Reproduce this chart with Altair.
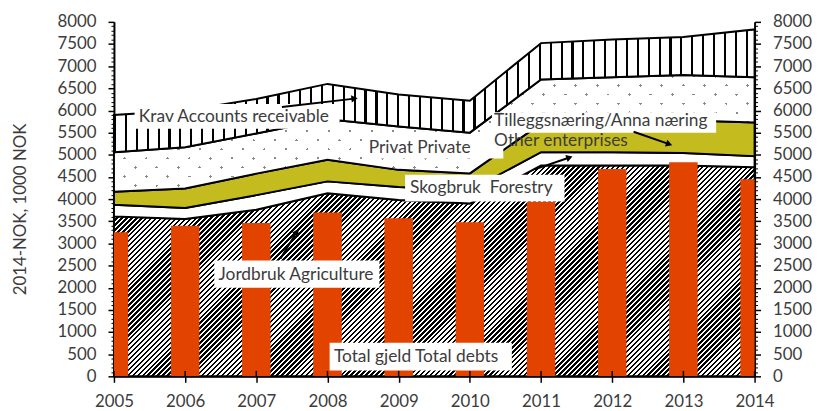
import math
import altair as alt
import pandas as pd

# ---------------- data ----------------
years = [2005, 2006, 2007, 2008, 2009, 2010, 2011, 2012, 2013, 2014]
agriculture = [3610, 3550, 3760, 4130, 3980, 3900, 4760, 4760, 4760, 4720]
forestry = [260, 250, 330, 270, 295, 300, 300, 300, 280, 250]
other_enterprises = [295, 440, 485, 490, 385, 380, 640, 690, 740, 760]
private = [890, 930, 905, 910, 980, 920, 1000, 1000, 1020, 1020]
accounts_receivable = [845, 830, 780, 800, 720, 720, 820, 850, 860, 1080]
total_debts = [3250, 3400, 3460, 3700, 3570, 3480, 3940, 4680, 4830, 4450]

y_ticks = list(range(0, 8001, 100))

# annotation boxes / labels / arrows (data coordinates)
box_x0 = [2005.29, 2008.52, 2009.09, 2010.31, 2006.41, 2008.03]
box_x1 = [2008.17, 2010.47, 2011.33, 2013.46, 2008.73, 2010.59]
box_y0 = [5587, 4916, 3944, 5497, 2000, 134]
box_y1 = [6145, 5385, 4547, 5960, 2614, 760]

label_text = ["Krav Accounts receivable", "Privat Private", "Skogbruk\u00a0 Forestry",
              "Tilleggsnæring/Anna næring", "Other enterprises",
              "Jordbruk Agriculture", "Total gjeld Total debts"]
label_x = [2005.35, 2008.58, 2009.16, 2010.34, 2010.34, 2006.47, 2008.09]
label_y = [5855, 5162, 4246, 5765, 5315, 2279, 436]

arrow_x0 = [2007.36, 2010.91, 2012.30, 2007.34]
arrow_y0 = [6078, 4670, 5519, 2659]
arrow_x1 = [2008.38, 2011.40, 2012.80, 2007.57]
arrow_y1 = [6268, 4938, 5240, 3263]

# ---------------- layout / style ----------------
W, H = 647, 358
YMAX = 8000
FONT = "Lato"
TXT = "#3c3c3c"
BAR = "#E24400"
OLIVE = "#C4BC1F"


def stripes(Wb, Hb, ax, ay, period, on, on_color, off_color, phase=0.0):
    """linear gradient (objectBoundingBox) that draws parallel stripes"""
    n = math.hypot(ax, ay)
    ax, ay = ax / n, ay / n
    corners = [(0.0, 0.0), (Wb, 0.0), (0.0, Hb), (Wb, Hb)]
    vals = [ax * x + ay * y for x, y in corners]
    fmin, fmax = min(vals), max(vals)
    R = fmax - fmin
    cx, cy = corners[vals.index(fmin)]
    al, be = ax / R, ay / R
    S = (al * Wb) ** 2 + (be * Hb) ** 2
    u1, v1 = cx / Wb, cy / Hb
    u2, v2 = u1 + al * Wb / S, v1 + be * Hb / S
    stops = [(0.0, off_color)]
    k = math.floor((fmin - phase) / period) - 1
    while True:
        s = phase + k * period
        if s > fmax:
            break
        e = s + on
        t0 = min(max((s - fmin) / R, 0.0), 1.0)
        t1 = min(max((e - fmin) / R, 0.0), 1.0)
        stops += [(t0, off_color), (t0, on_color), (t1, on_color), (t1, off_color)]
        k += 1
    stops.append((1.0, off_color))
    return {"gradient": "linear", "x1": u1, "y1": v1, "x2": u2, "y2": v2,
            "stops": [{"offset": round(t, 6), "color": c} for t, c in stops]}


# cumulative stack
c1 = agriculture
c2 = [a + b for a, b in zip(c1, forestry)]
c3 = [a + b for a, b in zip(c2, other_enterprises)]
c4 = [a + b for a, b in zip(c3, private)]
c5 = [a + b for a, b in zip(c4, accounts_receivable)]

df = pd.DataFrame({
    "year": years, "zero": [0] * len(years),
    "c1": c1, "c2": c2, "c3": c3, "c4": c4, "c5": c5,
    "total": total_debts,
    "x0": [y - 0.2 for y in years], "x1": [y + 0.2 for y in years],
})

xscale = alt.Scale(domain=[2005, 2014], nice=False, zero=False)
yscale = alt.Scale(domain=[0, YMAX], nice=False)

xaxis = alt.Axis(values=years, format="d", tickSize=6, tickColor="black", tickWidth=1.5,
                 domainColor="black", domainWidth=2, labelFont=FONT, labelFontSize=17,
                 labelColor=TXT, labelPadding=11, labelFlush=False, grid=False, title=None)


def yaxis(orient, title):
    kw = dict(orient=orient, values=y_ticks, format="d",
              labelExpr="datum.value % 500 === 0 ? datum.label : ''",
              labelOverlap=False, labelFlush=False,
              tickSize={"condition": {"test": "datum.value % 500 === 0", "value": 6}, "value": 3},
              tickWidth={"condition": {"test": "datum.value % 500 === 0", "value": 1.5}, "value": 1},
              tickColor="black", domainColor="black", domainWidth=2,
              labelFont=FONT, labelFontSize=17, labelColor=TXT, labelPadding=12, grid=False)
    if title:
        kw.update(title=title, titleFont=FONT, titleFontSize=17, titleFontWeight="normal",
                  titleColor=TXT, titleX=-85, titleY=189)
    else:
        kw.update(title=None)
    return alt.Axis(**kw)


YL = yaxis("left", "2014-NOK, 1000 NOK")
YR = yaxis("right", None)
X = alt.X("year:Q", scale=xscale, axis=xaxis)


def band(lo, hi, **mark):
    return alt.Chart(df).mark_area(**mark).encode(
        x=X, y=alt.Y(f"{lo}:Q", scale=yscale, axis=YL), y2=f"{hi}:Q")


def px(v):
    return v / YMAX * H


# pattern fills
g_agri = stripes(W, px(max(c1)), 1, 1, 5 / math.sqrt(2), 1.75, "#000000", "#ffffff")
g_acc = stripes(W, px(max(c5) - min(c4)), 1, 0, 11, 2.2, "#000000", "#ffffff", phase=0)
hp = px(max(c4) - min(c3))
g_dot_lines = stripes(W, hp, 0.6467, 0.7627, 14.03, 2.0, "#8a8a8a", "rgba(255,255,255,0)")
g_dot_mask = stripes(W, hp, 0.6467, -0.7627, 14.03, 14.03 - 2.0, "#ffffff", "rgba(255,255,255,0)")

SK = dict(stroke="black", strokeWidth=2, strokeJoin="miter")

areas = [
    band("zero", "c1", fill=g_agri, **SK),
    band("c1", "c2", fill="#ffffff", **SK),
    band("c2", "c3", fill=OLIVE, **SK),
    band("c3", "c4", fill="#ffffff"),
    band("c3", "c4", fill=g_dot_lines),
    band("c3", "c4", fill=g_dot_mask, **SK),
    band("c4", "c5", fill=g_acc, **SK),
]

bars = alt.Chart(df).mark_bar(color=BAR, clip=True).encode(
    x=alt.X("x0:Q", scale=xscale, axis=xaxis), x2="x1:Q",
    y=alt.Y("total:Q", scale=yscale, axis=YL), y2=alt.datum(0))

boxes_df = pd.DataFrame({"x0": box_x0, "x1": box_x1, "y0": box_y0, "y1": box_y1})
boxes = alt.Chart(boxes_df).mark_rect(fill="white").encode(
    x=alt.X("x0:Q", scale=xscale, axis=xaxis), x2="x1:Q",
    y=alt.Y("y0:Q", scale=yscale, axis=YL), y2="y1:Q")

ang = []
for a0, b0, a1, b1 in zip(arrow_x0, arrow_y0, arrow_x1, arrow_y1):
    dx = (a1 - a0) * W / 9
    dy = -(b1 - b0) * H / YMAX
    ang.append(math.degrees(math.atan2(dx, -dy)) % 360)
arrows_df = pd.DataFrame({"x0": arrow_x0, "y0": arrow_y0, "x1": arrow_x1, "y1": arrow_y1, "ang": ang})
arrow_lines = alt.Chart(arrows_df).mark_rule(color="black", strokeWidth=2).encode(
    x=alt.X("x0:Q", scale=xscale, axis=xaxis), x2="x1:Q",
    y=alt.Y("y0:Q", scale=yscale, axis=YL), y2="y1:Q")
arrow_heads = alt.Chart(arrows_df).mark_point(shape="triangle-up", filled=True, color="black",
                                              size=55, opacity=1).encode(
    x=alt.X("x1:Q", scale=xscale, axis=xaxis),
    y=alt.Y("y1:Q", scale=yscale, axis=YL),
    angle=alt.Angle("ang:Q", scale=None))

labels_df = pd.DataFrame({"t": label_text, "x": label_x, "y": label_y})
labels = alt.Chart(labels_df).mark_text(align="left", baseline="middle", font=FONT,
                                        fontSize=17.5, color=TXT).encode(
    x=alt.X("x:Q", scale=xscale, axis=xaxis),
    y=alt.Y("y:Q", scale=yscale, axis=YL), text="t:N")

inner_ticks = alt.Chart(df).mark_rule(color="black", strokeWidth=1.5).encode(
    x=X, y=alt.value(H - 5.5), y2=alt.value(H))

main = alt.layer(*areas, bars, boxes, arrow_lines, arrow_heads, labels, inner_ticks)

right = alt.Chart(df).mark_point(opacity=0).encode(
    x=X, y=alt.Y("total:Q", scale=yscale, axis=YR))

chart = alt.layer(main, right).resolve_scale(y="independent").properties(
    width=W, height=H,
    padding={"left": 107, "top": 12, "right": 59, "bottom": 33},
    autosize=alt.AutoSizeParams(type="none"),
    background="white",
).configure_view(stroke=None)

chart.save("out.html", embed_options={"renderer": "svg", "actions": False})
